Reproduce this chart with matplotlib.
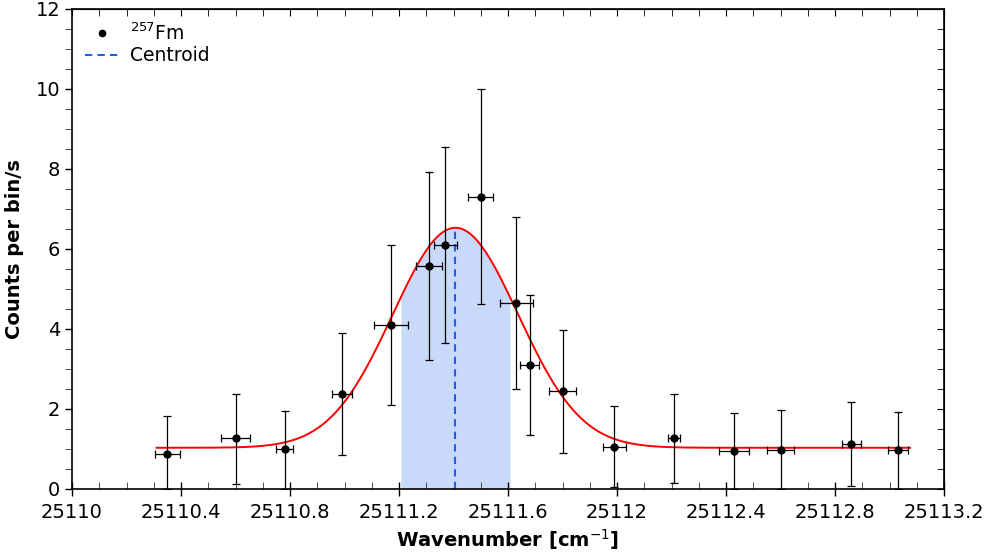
import matplotlib.pyplot as plt
import numpy as np
from matplotlib.ticker import MultipleLocator

# measured bins
wavenumber = [25110.35, 25110.60, 25110.78, 25110.99, 25111.17, 25111.31,
              25111.37, 25111.50, 25111.63, 25111.68, 25111.80, 25111.99,
              25112.21, 25112.43, 25112.60, 25112.86, 25113.03]
counts = [0.875, 1.275, 0.99, 2.38, 4.11, 5.575, 6.09, 7.31, 4.65, 3.09,
          2.44, 1.06, 1.28, 0.94, 0.975, 1.125, 0.97]
err_up = [0.95, 1.10, 0.97, 1.53, 2.00, 2.35, 2.47, 2.69, 2.14, 1.75,
          1.54, 1.02, 1.10, 0.97, 0.995, 1.055, 0.96]
err_dn = [0.875, 1.145, 0.99, 1.54, 2.01, 2.35, 2.45, 2.685, 2.16, 1.74,
          1.55, 1.02, 1.13, 0.94, 0.975, 1.055, 0.97]
xerr = [0.045, 0.054, 0.030, 0.037, 0.062, 0.048, 0.043, 0.046, 0.061,
        0.035, 0.048, 0.042, 0.022, 0.054, 0.051, 0.034, 0.037]

# gaussian fit parameters
fit_base = 1.03
fit_amp = 5.50
fit_center = 25111.407
fit_sigma = 0.23
fit_range = (25110.31, 25113.075)
band_halfwidth = 0.2

xticks = [25110, 25110.4, 25110.8, 25111.2, 25111.6, 25112, 25112.4,
          25112.8, 25113.2]
xticklabels = ['25110', '25110.4', '25110.8', '25111.2', '25111.6', '25112',
               '25112.4', '25112.8', '25113.2']


def gauss(x):
    return fit_base + fit_amp * np.exp(-(x - fit_center) ** 2 / (2 * fit_sigma ** 2))


fig = plt.figure(figsize=(9.88, 5.58), dpi=100)
ax = fig.add_axes([0.0729, 0.1237, 0.8826, 0.8602])

xs = np.linspace(*fit_range, 600)
xb = np.linspace(fit_center - band_halfwidth, fit_center + band_halfwidth, 200)
ax.fill_between(xb, 0, gauss(xb), color='#c9d9fa', lw=0, zorder=1)
ax.plot(xs, gauss(xs), color='red', lw=1.4, zorder=3)
ax.plot([fit_center, fit_center], [0, gauss(fit_center)], color='#1f5fe6',
        ls=(0, (3.5, 2.5)), lw=1.5, zorder=2)
ax.errorbar(wavenumber, counts, yerr=[err_dn, err_up], xerr=xerr, fmt='o',
            color='black', ms=5, elinewidth=0.9, capsize=3, capthick=0.9,
            zorder=4)

# legend handles
ax.plot([], [], 'o', color='black', ms=4.5, label='$^{257}$Fm')
ax.plot([], [], color='#1f5fe6', ls=(0, (3.5, 2.5)), lw=1.5, label='Centroid')

ax.set_xlim(25110, 25113.2)
ax.set_ylim(0, 12)
ax.set_xticks(xticks, labels=xticklabels)
ax.xaxis.set_minor_locator(MultipleLocator(0.1))
ax.yaxis.set_major_locator(MultipleLocator(2))
ax.yaxis.set_minor_locator(MultipleLocator(0.5))
ax.tick_params(labelsize=14, width=1)
ax.tick_params(axis='x', which='major', direction='inout', length=10, pad=5)
ax.tick_params(axis='x', which='minor', direction='in', length=5, color='#333333')
ax.tick_params(axis='y', which='major', direction='out', length=5)
ax.tick_params(axis='y', which='minor', direction='out', length=5, color='#333333')
for s in ax.spines.values():
    s.set_linewidth(1.2)

top = ax.secondary_xaxis('top')
top.set_xticks(xticks, labels=[])
top.xaxis.set_minor_locator(MultipleLocator(0.1))
top.tick_params(which='both', direction='in', length=5)
right = ax.secondary_yaxis('right')
right.set_yticks(range(0, 13, 2), labels=[])
right.yaxis.set_minor_locator(MultipleLocator(0.5))
right.tick_params(which='both', direction='in', length=5)

ax.set_xlabel('Wavenumber [cm$^{-1}$]', fontsize=14, fontweight='bold', labelpad=4)
ax.set_ylabel('Counts per bin/s', fontsize=14, fontweight='bold', labelpad=8)

ax.legend(loc='upper left', frameon=False, fontsize=13.5,
          handlelength=1.8, handletextpad=0.6, borderaxespad=0.3,
          labelspacing=0.15)

fig.savefig('out.png', dpi=100)
